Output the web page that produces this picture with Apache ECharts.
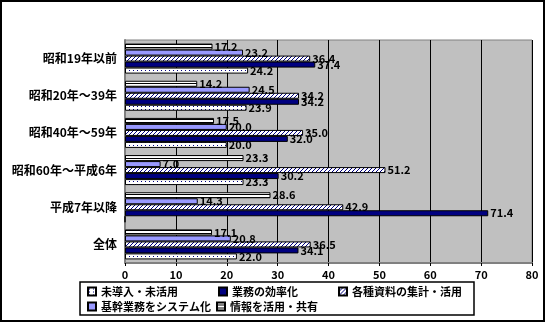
<!DOCTYPE html>
<html><head><meta charset="utf-8">
<script src="https://cdn.jsdelivr.net/npm/echarts@6/dist/echarts.min.js"></script>
<style>html,body{margin:0;padding:0;background:#fff}#c{width:545px;height:323px}</style>
</head><body><div id="c"></div>
<script>
const categories = ['昭和19年以前','昭和20年～39年','昭和40年～59年','昭和60年～平成6年','平成7年以降','全体'];
const seriesNames = ['未導入・未活用','業務の効率化','各種資料の集計・活用','基幹業務をシステム化','情報を活用・共有'];
const miDounyu = [24.2, 23.9, 20.0, 23.3, 0, 22.0];
const gyoumu   = [37.4, 34.2, 32.0, 30.2, 71.4, 34.1];
const kakushu  = [36.4, 34.2, 35.0, 51.2, 42.9, 36.5];
const kikan    = [23.2, 24.5, 20.0, 7.0, 14.3, 20.8];
const jouhou   = [17.2, 14.2, 17.5, 23.3, 28.6, 17.1];
const xTicks = [0,10,20,30,40,50,60,70,80];

function pat(w,h,draw){const c=document.createElement('canvas');c.width=w;c.height=h;const g=c.getContext('2d');g.fillStyle='#fff';g.fillRect(0,0,w,h);draw(g);return {image:c,repeat:'repeat'};}
const hatch = pat(4,4,g=>{g.fillStyle='#000080';g.fillRect(3,0,1,1);g.fillRect(2,1,1,1);g.fillRect(1,2,1,1);g.fillRect(0,3,1,1);});
const dots = pat(4,3,g=>{g.fillStyle='#000080';g.fillRect(1,1,1,1);});
const stripe = pat(2,3,g=>{g.fillStyle='#000000';g.fillRect(0,2,2,1);});

const FONT = "'Noto Sans CJK JP','Noto Sans',sans-serif";
function mk(name,data,color){
  return {name:name,type:'bar',data:data,barWidth:6,barGap:'0%',
    itemStyle:{color:color,borderColor:'#000',borderWidth:1},
    label:{show:true,position:'right',distance:2,color:'#000',fontWeight:'bold',fontSize:11,fontFamily:FONT,
      formatter:p=>p.value===0?'':p.value.toFixed(1)}};
}
const chart = echarts.init(document.getElementById('c'));
chart.setOption({
  animation:false,
  textStyle:{fontFamily:FONT},
  grid:{left:125,right:13,top:40,bottom:60,show:true,backgroundColor:'#C0C0C0',borderColor:'#808080',borderWidth:1},
  xAxis:{type:'value',min:0,max:80,interval:10,
    axisLine:{show:true,lineStyle:{color:'#808080',width:2}},
    axisTick:{show:true,length:3,lineStyle:{color:'#000'}},
    splitLine:{show:true,lineStyle:{color:'#000',width:1}},
    axisLabel:{color:'#000',fontWeight:'bold',fontSize:11,fontFamily:FONT,margin:6,
      formatter:v=>xTicks.indexOf(v)>=0?String(v):''}},
  yAxis:{type:'category',data:categories,inverse:true,
    axisLine:{show:true,lineStyle:{color:'#808080',width:2}},axisTick:{show:false},
    axisLabel:{color:'#000',fontWeight:'bold',fontSize:12,fontFamily:FONT,margin:8}},
  legend:[
    {data:[seriesNames[0],seriesNames[1],seriesNames[2]],left:82,top:281,itemWidth:8,itemHeight:8,itemGap:40,
     textStyle:{color:'#000',fontWeight:'bold',fontSize:11,fontFamily:FONT},icon:'rect'},
    {data:[seriesNames[3],seriesNames[4]],left:82,top:296,itemWidth:8,itemHeight:8,itemGap:5,
     textStyle:{color:'#000',fontWeight:'bold',fontSize:11,fontFamily:FONT},icon:'rect'}
  ],
  graphic:[
    {type:'rect',shape:{x:1,y:1,width:543,height:320},style:{fill:null,stroke:'#000',lineWidth:2},silent:true},
    {type:'rect',shape:{x:80,y:282,width:394,height:33},style:{fill:null,stroke:'#000',lineWidth:1.5},silent:true}
  ],
  series:[
    mk(seriesNames[4],jouhou,stripe),
    mk(seriesNames[3],kikan,'#9999FF'),
    mk(seriesNames[2],kakushu,hatch),
    mk(seriesNames[1],gyoumu,'#000080'),
    mk(seriesNames[0],miDounyu,dots)
  ]
});
</script></body></html>
